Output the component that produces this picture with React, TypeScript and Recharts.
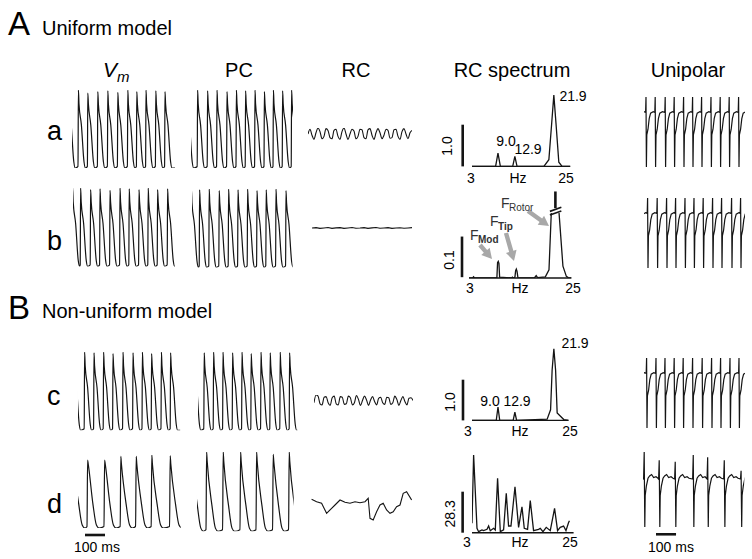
import React from "react";
import { LineChart, Line, XAxis, YAxis, ReferenceLine } from "recharts";

const INK = "#141414";
const GREY = "#a8a8a8";
const FONT = "'Liberation Sans', Arial, Helvetica, sans-serif";

// one beat, ms after the upstroke -> value
const FAST_AP_T = [0, 2, 5, 17, 30, 37];
const FAST_AP_MV = [-78, 20, 2, -25, -72, -80];
const SLOW_AP_T = [0, 3, 6, 30, 47, 60];
const SLOW_AP_MV = [-78, 20, 8, -48, -76, -80];
const UNI_T = [0, 2, 4, 6, 12, 18, 25, 38];
const UNI_V = [0.78, 1, 0, 0.46, 0.54, 0.69, 0.77, 0.79];
const UNI_SLOW_T = [0, 3, 6, 8, 14, 22, 30, 40, 50, 62, 72];
const UNI_SLOW_V = [0.64, 1, 0, 0.42, 0.55, 0.65, 0.68, 0.7, 0.66, 0.67, 0.65];

// upstroke times (ms) and peak values per trace
const VM_A_ON = [-21, 30, 77, 127, 177, 227, 277, 322, 368, 417, 463];
const VM_A_PK = [20, 20, 16, 18, 19, 17, 20, 18, 20, 19, 18];
const PC_A_ON = [-24, 31, 81, 128, 178, 225, 271, 318, 365, 410, 456, 501];
const PC_A_PK = [20, 20, 19, 20, 18, 20, 19, 20, 18, 20, 19, 20];
const VM_B_ON = [-4, 36, 86, 133, 183, 233, 279, 328, 374, 421, 471];
const VM_B_PK = [20, 20, 18, 19, 17, 20, 19, 18, 20, 18, 19];
const PC_B_ON = [-5, 36, 84, 134, 181, 228, 276, 323, 369, 418, 468];
const PC_B_PK = [20, 19, 20, 18, 20, 19, 20, 18, 19, 20, 18];
const VM_C_ON = [-24, 31, 78, 126, 173, 223, 273, 320, 366, 415, 461];
const VM_C_PK = [20, 20, 19, 20, 18, 20, 19, 20, 18, 20, 19];
const PC_C_ON = [-23, 29, 76, 123, 171, 218, 264, 313, 359, 409, 456];
const PC_C_PK = [20, 19, 20, 20, 19, 20, 18, 20, 19, 20, 19];
const VM_D_ON = [-26, 45, 130, 211, 288, 366, 458];
const VM_D_PK = [20, 13, 13, 18, 18, 20, 19];
const PC_D_ON = [-28, 45, 128, 215, 295, 378, 458];
const PC_D_PK = [20, 20, 20, 20, 20, 17, 20];

const UNI_A_ON = [-38, 8, 54, 104, 149, 196, 241, 286, 333, 379, 424, 471];
const UNI_B_ON = [-30, 16, 64, 111, 156, 203, 248, 294, 341, 386, 436, 481];
const UNI_C_ON = [-35, 11, 58, 103, 149, 194, 241, 289, 336, 381, 428, 473];
const UNI_D_ON = [-77, 3, 78, 158, 248, 320, 403, 487];
const UNI_D_PK = [0.9, 1.0, 0.89, 0.87, 0.96, 0.93, 0.89, 0.75];

// RC traces, sampled every 10 ms (b every 20 ms)
const RC_A = [0.5, 0.9, 0.4, 0.05, 0.6, 1.0, 0.7, 0.1, 0.3, 0.95, 0.8, 0.2, 0.1, 0.8, 0.9, 0.3, 0.05, 0.7, 1.0, 0.5,
  0.05, 0.5, 0.9, 0.75, 0.1, 0.3, 0.9, 0.85, 0.2, 0.1, 0.85, 0.95, 0.4, 0.05, 0.6, 0.95, 0.6, 0.1, 0.4, 0.9,
  0.8, 0.15, 0.2, 0.85, 0.9, 0.3, 0.05, 0.7, 0.95, 0.5, 0.1, 0.6, 0.8];
const RC_B = [0.5, 0.55, 0.45, 0.5, 0.56, 0.46, 0.52, 0.55, 0.45, 0.5, 0.56, 0.47, 0.5, 0.55, 0.45, 0.52, 0.56, 0.46,
  0.5, 0.55, 0.45, 0.5, 0.54, 0.46, 0.5, 0.55];
const RC_C = [0.3, 1.0, 0.9, 0.2, 0.1, 0.8, 0.85, 0.3, 0.05, 0.75, 0.9, 0.2, 0.1, 0.85, 0.8, 0.15, 0.2, 0.9, 0.75, 0.1,
  0.3, 0.95, 0.6, 0.05, 0.5, 0.9, 0.55, 0.05, 0.55, 0.85, 0.4, 0.1, 0.7, 0.8, 0.3, 0.15, 0.8, 0.75, 0.15, 0.3,
  0.9, 0.6, 0.05, 0.5, 0.85, 0.4, 0.1, 0.7, 0.75, 0.5];
const RC_D_T = [3, 28, 53, 78, 103, 120, 145, 170, 195, 220, 245, 270, 286, 295, 311, 328, 345, 361, 378, 395, 411, 428, 445, 461, 478, 503];
const RC_D_V = [22.7, 20.3, 18.7, 8.7, 13.7, 17, 22, 19.7, 18.7, 20.3, 19.3, 20.3, 23.7, 3.7, 2, 10.3, 17, 18.7, 12, 8.7, 10.3, 15.3, 17, 28.7, 30.3, 22];

// RC spectra (Hz, amplitude)
const SPEC_A_HZ = [3, 8.45, 9.0, 9.55, 12.4, 12.9, 13.4, 19.6, 20.75, 21.4, 21.9, 22.4, 23.05, 23.8, 25.7];
const SPEC_A_AMP = [0, 0, 0.32, 0, 0, 0.24, 0, 0, 0.16, 1.03, 1.71, 1.03, 0.1, 0, 0];
const SPEC_B_HZ = [2.6, 3.4, 3.6, 3.8, 8.7, 8.85, 9.0, 9.15, 9.3, 11.9, 12.1, 12.3, 12.65, 12.8, 12.95, 13.1, 13.3,
  16.9, 17.3, 17.6, 19.3, 20.1, 20.6, 21.9, 22.3, 23.15, 23.9, 24.3, 25];
const SPEC_B_AMP = [0, 0, 0.003, 0, 0, 0.038, 0.041, 0.036, 0.002, 0, 0.002, 0, 0.002, 0.018, 0.022, 0.017, 0.001,
  0, 0.006, 0.001, 0.003, 0.02, 0.16, 0.9, 0.16, 0.029, 0.004, 0.001, 0];
const SPEC_C_HZ = [3, 8.6, 9.0, 9.4, 12.5, 12.9, 13.3, 20.35, 21.14, 21.5, 21.9, 22.3, 22.66, 24.2, 25.3];
const SPEC_C_AMP = [0, 0, 0.33, 0, 0, 0.2, 0, 0.03, 0.26, 1.24, 1.76, 1.24, 0.18, 0.02, 0];
const SPEC_D_HZ = [3.0, 3.35, 4.08, 4.43, 5.16, 5.51, 6.25, 6.6, 6.96, 7.68, 8.04, 8.54, 9.13, 9.84, 10.42, 10.92, 11.44,
  12.31, 13.09, 13.82, 14.32, 15.03, 15.62, 16.33, 17.42, 17.78, 18.37, 19.08, 19.95, 20.88, 21.53, 22.11, 22.83, 23.35, 23.9, 24.1];
const SPEC_D_AMP = [6.5, 53.6, 3.0, 0.7, 1.9, 1.4, 2.3, 4.6, 1.4, 3.0, 1.9, 37.5, 0.7, 1.9, 27.2, 4.6, 4.6,
  31.7, 3.7, 17.9, 3.0, 2.3, 22.1, 1.4, 2.3, 3.0, 0.7, 3.7, 1.4, 16.8, 1.4, 3.7, 4.6, 1.4, 6.9, 8.3];

type Pt = { t: number; v: number };

function beats(on: number[], tT: number[], tV: number[], end: number, peaks?: number[]): Pt[] {
  const pts: Pt[] = [];
  on.forEach((t0, i) => {
    const next = i + 1 < on.length ? on[i + 1] : Infinity;
    tT.forEach((dt, j) => {
      if (t0 + dt >= next) return;
      pts.push({ t: t0 + dt, v: peaks && j === 1 ? peaks[i] : tV[j] });
    });
  });
  const last = pts[pts.length - 1];
  if (last.t < end) pts.push({ t: end, v: last.v });
  return pts;
}
const sampled = (vals: number[], step: number): Pt[] => vals.map((v, i) => ({ t: i * step, v }));
const zip = (ts: number[], vs: number[]): Pt[] => ts.map((t, i) => ({ t, v: vs[i] }));

type M = { top?: number; right?: number; bottom?: number; left?: number };

function Trace(props: {
  x: number; y: number; w: number; h: number; xd: number[]; yd: number[]; data: Pt[];
  m?: M; sw?: number; curve?: "linear" | "monotone"; children?: React.ReactNode;
}) {
  const { x, y, w, h, xd, yd, data, m = {}, sw = 1.2, curve = "linear", children } = props;
  const mg = { top: m.top ?? 2, right: m.right ?? 2, bottom: m.bottom ?? 2, left: m.left ?? 2 };
  return (
    <div style={{ position: "absolute", left: x - mg.left, top: y - mg.top }}>
      <LineChart width={w + mg.left + mg.right} height={h + mg.top + mg.bottom} data={data} margin={mg}>
        <XAxis type="number" dataKey="t" domain={xd} hide allowDataOverflow />
        <YAxis type="number" domain={yd} hide allowDataOverflow />
        {children}
        <Line type={curve} dataKey="v" stroke={INK} strokeWidth={sw} dot={false} isAnimationActive={false} />
      </LineChart>
    </div>
  );
}

function Txt(p: { x: number; b: number; fs: number; mid?: boolean; rot?: boolean; style?: React.CSSProperties; children: React.ReactNode }) {
  const tr = [p.mid ? "translateX(-50%)" : "", p.rot ? "rotate(-90deg)" : ""].join(" ");
  return (
    <div style={{
      position: "absolute", left: p.x, top: p.b - 0.847 * p.fs, fontSize: p.fs, lineHeight: 1,
      whiteSpace: "nowrap", transform: tr, transformOrigin: p.rot ? "50% 64%" : undefined, ...p.style,
    }}>{p.children}</div>
  );
}

function arrow(x1: number, y1: number, x2: number, y2: number) {
  const L = Math.hypot(x2 - x1, y2 - y1);
  const ux = (x2 - x1) / L, uy = (y2 - y1) / L, nx = -uy, ny = ux;
  const bx = x2 - ux * 10, by = y2 - uy * 10;
  const s = 2.2, hw = 5.5;
  const pts = [
    [x1 + nx * s, y1 + ny * s], [bx + nx * s, by + ny * s], [bx + nx * hw, by + ny * hw], [x2, y2],
    [bx - nx * hw, by - ny * hw], [bx - nx * s, by - ny * s], [x1 - nx * s, y1 - ny * s],
  ];
  return pts.map(p => p.join(",")).join(" ");
}

const AP = [-80, 20];
const U = [0, 1];

export default function App() {
  const bar = { stroke: INK, strokeWidth: 2.6, ifOverflow: "visible" as const };
  const base = { stroke: INK, strokeWidth: 1.4 };
  return (
    <div style={{ position: "absolute", left: 0, top: 0, width: 752, height: 559, background: "#fff", fontFamily: FONT, color: "#000", overflow: "hidden" }}>
      {/* headings */}
      <Txt x={8} b={35} fs={33}>A</Txt>
      <Txt x={42} b={35} fs={20}>Uniform model</Txt>
      <Txt x={8} b={319} fs={33}>B</Txt>
      <Txt x={42} b={318} fs={20}>Non-uniform model</Txt>
      <Txt x={103} b={77} fs={21}><i>V</i><sub style={{ fontSize: 15, fontStyle: "italic", verticalAlign: -5 }}>m</sub></Txt>
      <Txt x={239} b={77} fs={20} mid>PC</Txt>
      <Txt x={356} b={77} fs={20} mid>RC</Txt>
      <Txt x={512} b={77} fs={20} mid>RC spectrum</Txt>
      <Txt x={688} b={77} fs={20} mid>Unipolar</Txt>
      <Txt x={47} b={141} fs={27}>a</Txt>
      <Txt x={47} b={251} fs={27}>b</Txt>
      <Txt x={47} b={406} fs={27}>c</Txt>
      <Txt x={47} b={514} fs={27}>d</Txt>

      {/* row a */}
      <Trace x={72} y={90} w={103} h={78} xd={[0, 515]} yd={AP} data={beats(VM_A_ON, FAST_AP_T, FAST_AP_MV, 515, VM_A_PK)} curve="monotone" />
      <Trace x={191} y={90} w={102} h={78} xd={[0, 510]} yd={AP} data={beats(PC_A_ON, FAST_AP_T, FAST_AP_MV, 510, PC_A_PK)} curve="monotone" />
      <Trace x={308} y={128} w={104} h={12} xd={[0, 520]} yd={U} data={sampled(RC_A, 10)} sw={1.1} curve="monotone" />
      <Trace x={471.7} y={83.3} w={98.3} h={83.4} xd={[3, 25.7]} yd={[0, 2]} data={zip(SPEC_A_HZ, SPEC_A_AMP)} m={{ left: 14 }} sw={1.3}>
        <ReferenceLine y={0} {...base} />
        <ReferenceLine segment={[{ x: 0.85, y: 0 }, { x: 0.85, y: 1 }]} {...bar} />
      </Trace>
      <Trace x={644} y={96.7} w={101} h={70} xd={[0, 505]} yd={U} data={beats(UNI_A_ON, UNI_T, UNI_V, 505)} />

      {/* row b */}
      <Trace x={73} y={188.3} w={102} h={78.4} xd={[0, 510]} yd={AP} data={beats(VM_B_ON, FAST_AP_T, FAST_AP_MV, 510, VM_B_PK)} curve="monotone" />
      <Trace x={191.7} y={189} w={100.6} h={78.4} xd={[0, 503]} yd={AP} data={beats(PC_B_ON, FAST_AP_T, FAST_AP_MV, 503, PC_B_PK)} curve="monotone" />
      <Trace x={312} y={224} w={100} h={8} xd={[0, 500]} yd={U} data={sampled(RC_B, 20)} sw={1.1} />
      <Trace x={469.3} y={213.3} w={102.4} h={65} xd={[2.6, 25]} yd={[0, 0.16]} data={zip(SPEC_B_HZ, SPEC_B_AMP)} m={{ left: 14, top: 26 }} sw={1.3}>
        <ReferenceLine y={0} {...base} />
        <ReferenceLine segment={[{ x: 1.07, y: 0.002 }, { x: 1.07, y: 0.102 }]} {...bar} />
        <ReferenceLine segment={[{ x: 21.5, y: 0.172 }, { x: 21.5, y: 0.213 }]} {...bar} />
        <ReferenceLine segment={[{ x: 20.3, y: 0.155 }, { x: 22.8, y: 0.165 }]} {...bar} strokeWidth={1.6} />
        <ReferenceLine segment={[{ x: 20.3, y: 0.164 }, { x: 22.8, y: 0.174 }]} {...bar} strokeWidth={1.6} />
      </Trace>
      <Trace x={644} y={198.3} w={101} h={70} xd={[0, 505]} yd={U} data={beats(UNI_B_ON, UNI_T, UNI_V, 505)} />

      {/* row c */}
      <Trace x={78.3} y={351.7} w={102.4} h={78.3} xd={[0, 512]} yd={AP} data={beats(VM_C_ON, FAST_AP_T, FAST_AP_MV, 512, VM_C_PK)} curve="monotone" />
      <Trace x={197.7} y={351.7} w={99.6} h={78.3} xd={[0, 498]} yd={AP} data={beats(PC_C_ON, FAST_AP_T, FAST_AP_MV, 498, PC_C_PK)} curve="monotone" />
      <Trace x={314} y={395} w={99} h={11} xd={[0, 490]} yd={U} data={sampled(RC_C, 10)} sw={1.1} curve="monotone" />
      <Trace x={471.7} y={339.3} w={96.6} h={81.4} xd={[3, 25.3]} yd={[0, 2]} data={zip(SPEC_C_HZ, SPEC_C_AMP)} m={{ left: 14 }} sw={1.3}>
        <ReferenceLine y={0} {...base} />
        <ReferenceLine segment={[{ x: 0.92, y: 0 }, { x: 0.92, y: 1 }]} {...bar} />
      </Trace>
      <Trace x={644} y={358.3} w={101} h={70} xd={[0, 505]} yd={U} data={beats(UNI_C_ON, UNI_T, UNI_V, 505)} />

      {/* row d */}
      <Trace x={78} y={455} w={102.7} h={73} xd={[0, 513.5]} yd={AP} data={beats(VM_D_ON, SLOW_AP_T, SLOW_AP_MV, 513.5, VM_D_PK)} m={{ bottom: 12 }} curve="monotone">
        <ReferenceLine segment={[{ x: 35, y: -89.6 }, { x: 135, y: -89.6 }]} {...bar} />
      </Trace>
      <Trace x={197.3} y={451.7} w={96.7} h={79.3} xd={[0, 483.5]} yd={AP} data={beats(PC_D_ON, SLOW_AP_T, SLOW_AP_MV, 483.5, PC_D_PK)} curve="monotone" />
      <Trace x={311} y={490} w={101} h={32} xd={[0, 505]} yd={[0, 32]} data={zip(RC_D_T, RC_D_V)} sw={1.1} />
      <Trace x={471.7} y={453} w={101.6} h={79.7} xd={[3, 25]} yd={[0, 55]} data={zip(SPEC_D_HZ, SPEC_D_AMP)} m={{ left: 14 }} sw={1.3}>
        <ReferenceLine y={0} {...base} />
        <ReferenceLine segment={[{ x: 0.97, y: 0 }, { x: 0.97, y: 28.3 }]} {...bar} />
      </Trace>
      <Trace x={643} y={452} w={101.3} h={75} xd={[0, 506]} yd={U} data={beats(UNI_D_ON, UNI_SLOW_T, UNI_SLOW_V, 506, UNI_D_PK)} m={{ bottom: 12 }}>
        <ReferenceLine segment={[{ x: 65, y: -0.097 }, { x: 165, y: -0.097 }]} {...bar} />
      </Trace>

      {/* spectrum labels */}
      <Txt x={573} b={101} fs={14} mid>21.9</Txt>
      <Txt x={506} b={146} fs={14} mid>9.0</Txt>
      <Txt x={528} b={154} fs={14} mid>12.9</Txt>
      <Txt x={449} b={149} fs={14} mid rot>1.0</Txt>
      <Txt x={471} b={183} fs={14} mid>3</Txt>
      <Txt x={518} b={183} fs={14} mid>Hz</Txt>
      <Txt x={566} b={183} fs={14} mid>25</Txt>

      <Txt x={451} b={263} fs={14} mid rot>0.1</Txt>
      <Txt x={470} b={293} fs={14} mid>3</Txt>
      <Txt x={520} b={293} fs={14} mid>Hz</Txt>
      <Txt x={573} b={293} fs={14} mid>25</Txt>

      <Txt x={575} b={348} fs={14} mid>21.9</Txt>
      <Txt x={490} b={406} fs={14} mid>9.0</Txt>
      <Txt x={517} b={406} fs={14} mid>12.9</Txt>
      <Txt x={452} b={405} fs={14} mid rot>1.0</Txt>
      <Txt x={468} b={436} fs={14} mid>3</Txt>
      <Txt x={520} b={436} fs={14} mid>Hz</Txt>
      <Txt x={570} b={436} fs={14} mid>25</Txt>

      <Txt x={452} b={517} fs={14} mid rot>28.3</Txt>
      <Txt x={467} b={547} fs={14} mid>3</Txt>
      <Txt x={520} b={547} fs={14} mid>Hz</Txt>
      <Txt x={570} b={547} fs={14} mid>25</Txt>

      <Txt x={97} b={552} fs={14} mid>100 ms</Txt>
      <Txt x={671} b={552} fs={14} mid>100 ms</Txt>

      {/* arrows in spectrum b */}
      <svg width={752} height={559} style={{ position: "absolute", left: 0, top: 0, pointerEvents: "none" }}>
        <polygon points={arrow(528, 211, 549, 226)} fill={GREY} />
        <polygon points={arrow(506, 233, 514, 261)} fill={GREY} />
        <polygon points={arrow(480, 245, 492, 259)} fill={GREY} />
      </svg>
      <Txt x={501} b={208} fs={14} style={{ color: "#333" }}>F</Txt>
      <Txt x={509} b={211} fs={10} style={{ color: "#333" }}>Rotor</Txt>
      <Txt x={490} b={226} fs={14} style={{ color: "#333" }}>F</Txt>
      <Txt x={498} b={230} fs={10} style={{ color: "#333", fontWeight: "bold" }}>Tip</Txt>
      <Txt x={470} b={240} fs={14} style={{ color: "#333" }}>F</Txt>
      <Txt x={478} b={243} fs={10} style={{ color: "#333", fontWeight: "bold" }}>Mod</Txt>
    </div>
  );
}
